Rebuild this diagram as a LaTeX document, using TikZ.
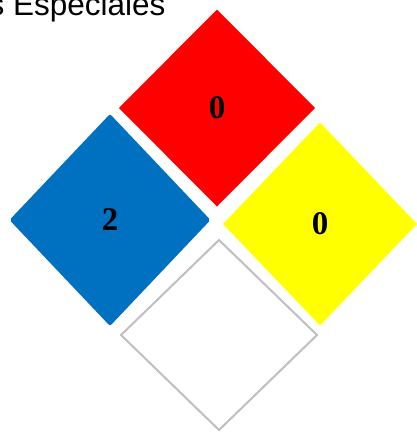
\documentclass[tikz,border=0pt]{standalone}
\usepackage{fontspec}
\setmainfont{Liberation Serif}
\setsansfont{Liberation Sans}
\usetikzlibrary{shapes.geometric}
\definecolor{NFPAred}{RGB}{255,0,0}
\definecolor{NFPAblue}{RGB}{0,112,192}
\definecolor{NFPAyellow}{RGB}{255,255,0}
\definecolor{NFPAgray}{RGB}{191,191,191}
\tikzset{
  nfpa sign/.style={
    diamond,
    inner sep=0pt,
    outer sep=0pt,
    font=\fontsize{33}{33}\selectfont\bfseries
  },
  nfpa fire/.style={nfpa sign,fill=NFPAred,minimum width=196pt,minimum height=197pt},
  nfpa health/.style={nfpa sign,fill=NFPAblue,rounded corners=2pt,minimum width=201pt,minimum height=212pt},
  nfpa reactivity/.style={nfpa sign,fill=NFPAyellow,minimum width=194pt,minimum height=203pt},
  nfpa special/.style={nfpa sign,draw=NFPAgray,line width=2pt,fill=white,minimum width=196pt,minimum height=190pt},
  nfpa title/.style={font=\sffamily\fontsize{31.5}{36}\selectfont,inner sep=0pt,anchor=base west}
}

\begin{document}
\begin{tikzpicture}[x=1pt,y=-1pt]
  \useasboundingbox (0,0) rectangle (417,432);

  \node[nfpa title] (title) at (-11.5,15.7) {s Especiales};

  \node[nfpa fire] (fire) at (217,108) {\raisebox{-3pt}{0}};
  \node[nfpa health] (health) at (110,220) {\raisebox{-3pt}{2}};
  \node[nfpa reactivity] (reactivity) at (320,224) {\raisebox{-3pt}{0}};
  \node[nfpa special] (special) at (219,335) {};
\end{tikzpicture}
\end{document}
